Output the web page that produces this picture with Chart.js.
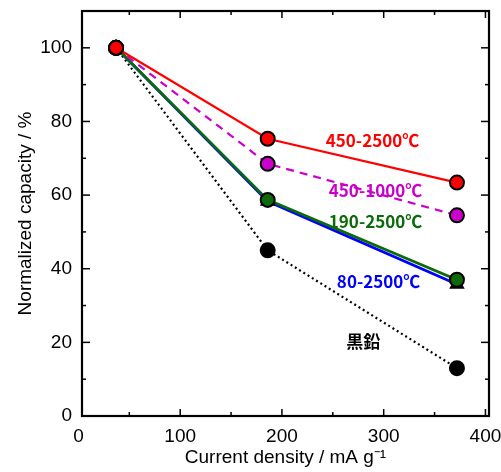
<!DOCTYPE html>
<html><head><meta charset="utf-8">
<script src="https://cdn.jsdelivr.net/npm/chart.js@4/dist/chart.umd.min.js"></script>
<style>html,body{margin:0;padding:0;background:#fff}#wrap{width:501px;height:472px}</style>
</head><body><div id="wrap"><canvas id="c" width="501" height="472"></canvas></div>
<script>
const currentDensity = [37, 186, 372];
const s450_2500 = [100, 75.3, 63.4];
const s450_1000 = [100, 68.5, 54.5];
const s190_2500 = [100, 58.7, 37.0];
const s80_2500  = [100, 58.3, 35.8];
const graphite  = [100, 45.0, 13.0];
const xTicks = [0, 100, 200, 300, 400];
const xMinor = [50, 150, 250, 350];
const yTicks = [0, 20, 40, 60, 80, 100];
const yMinor = [10, 30, 50, 70, 90];
const labelText = ['450-2500℃', '450-1000℃', '190-2500℃', '80-2500℃', '黒鉛'];
const labelX = [289, 292, 292, 295, 280];
const labelY = [74.8, 61.3, 52.8, 36.6, 20.2];
const labelColor = ['#ff0000', '#cc00cc', '#0b6b0b', '#0000ff', '#000000'];

function pts(arr){ return arr.map((v,i)=>({x: currentDensity[i], y: v})); }

const frame = {
  id: 'frame',
  afterDatasetsDraw(chart){
    const ctx = chart.ctx, a = chart.chartArea;
    const xs = chart.scales.x, ys = chart.scales.y;
    ctx.save();
    ctx.strokeStyle = '#000'; ctx.lineWidth = 1.5;
    const tick = (vals, len) => {
      vals.forEach(v => {
        const px = xs.getPixelForValue(v);
        if (px < a.left + 1 || px > a.right - 1) return;
        ctx.beginPath(); ctx.moveTo(px, a.bottom); ctx.lineTo(px, a.bottom - len); ctx.stroke();
        ctx.beginPath(); ctx.moveTo(px, a.top); ctx.lineTo(px, a.top + len); ctx.stroke();
      });
    };
    const ytick = (vals, len) => {
      vals.forEach(v => {
        const py = ys.getPixelForValue(v);
        if (py < a.top + 1 || py > a.bottom - 1) return;
        ctx.beginPath(); ctx.moveTo(a.left, py); ctx.lineTo(a.left + len, py); ctx.stroke();
        ctx.beginPath(); ctx.moveTo(a.right, py); ctx.lineTo(a.right - len, py); ctx.stroke();
      });
    };
    tick(xTicks, 7); tick(xMinor, 4);
    ytick(yTicks, 8); ytick(yMinor, 4);
    ctx.lineWidth = 2.2;
    ctx.strokeRect(a.left, a.top, a.right - a.left, a.bottom - a.top);
    ctx.font = 'bold 17px "Noto Sans CJK JP", "DejaVu Sans", sans-serif';
    ctx.textAlign = 'center'; ctx.textBaseline = 'middle';
    labelText.forEach((t,i) => {
      ctx.fillStyle = labelColor[i];
      ctx.fillText(t, xs.getPixelForValue(labelX[i]), ys.getPixelForValue(labelY[i]));
    });
    ctx.restore();
  }
};

const common = { pointRadius: 7, pointHoverRadius: 7, pointBorderColor: '#000', pointBorderWidth: 2, borderWidth: 2.2, fill: false, tension: 0 };

new Chart(document.getElementById('c'), {
  type: 'line',
  data: { datasets: [
    Object.assign({}, common, { label: '450-2500℃', data: pts(s450_2500), borderColor: '#ff0000', pointBackgroundColor: '#ff0000' }),
    Object.assign({}, common, { label: '450-1000℃', data: pts(s450_1000), borderColor: '#cc00cc', pointBackgroundColor: '#cc00cc', borderDash: [8, 6] }),
    Object.assign({}, common, { label: '190-2500℃', data: pts(s190_2500), borderColor: '#0b6b0b', pointBackgroundColor: '#0b6b0b', borderWidth: 2.8 }),
    Object.assign({}, common, { label: '80-2500℃', data: pts(s80_2500), borderColor: '#0000ff', pointBackgroundColor: '#0000ff', pointStyle: 'triangle', borderWidth: 2.8 }),
    Object.assign({}, common, { label: '黒鉛', data: pts(graphite), borderColor: '#000', pointBackgroundColor: '#000', borderDash: [2, 3] })
  ]},
  options: {
    responsive: false, animation: false,
    layout: { padding: { top: 11, right: 12, left: 0, bottom: 0 } },
    plugins: { legend: { display: false }, tooltip: { enabled: false } },
    scales: {
      x: {
        type: 'linear', min: 3.5, max: 403.5,
        afterBuildTicks: s => { s.ticks = xTicks.map(v => ({ value: v })); },
        afterFit: s => { s.height = 56; s.paddingLeft = 0; s.paddingRight = 0; },
        grid: { display: false, drawTicks: false },
        border: { display: false },
        ticks: { color: '#000', padding: 9, maxRotation: 0, font: { family: '"Liberation Sans", Arial, sans-serif', size: 19 } },
        title: { display: true, text: 'Current density / mA g⁻¹', color: '#000', padding: { top: 0, bottom: 3 }, font: { family: '"Liberation Sans", Arial, sans-serif', size: 19 } }
      },
      y: {
        type: 'linear', min: 0, max: 110,
        afterBuildTicks: s => { s.ticks = yTicks.map(v => ({ value: v })); },
        afterFit: s => { s.width = 82; s.paddingTop = 0; s.paddingBottom = 0; },
        grid: { display: false, drawTicks: false },
        border: { display: false },
        ticks: { color: '#000', padding: 10, font: { family: '"Liberation Sans", Arial, sans-serif', size: 19 } },
        title: { display: true, text: 'Normalized capacity / %', color: '#000', padding: { top: 14, bottom: 0 }, font: { family: '"Liberation Sans", Arial, sans-serif', size: 19 } }
      }
    }
  },
  plugins: [frame]
});
</script></body></html>
